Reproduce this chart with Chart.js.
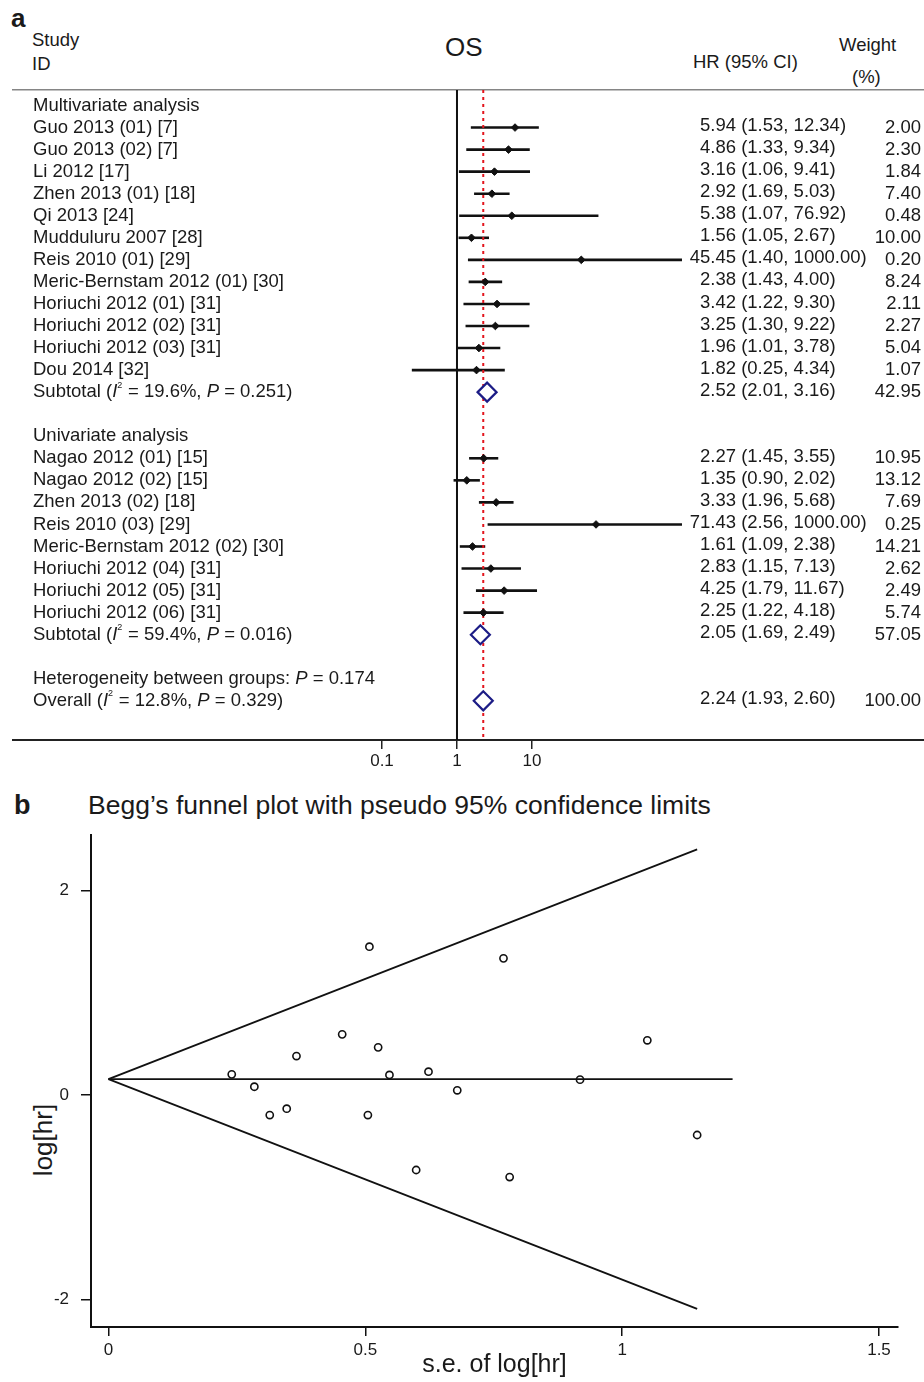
<!DOCTYPE html>
<html><head><meta charset="utf-8">
<script src="https://cdn.jsdelivr.net/npm/chart.js@4.4.1/dist/chart.umd.min.js"></script>
<style>
html,body{margin:0;padding:0;background:#fff;}
body{width:924px;height:1382px;position:relative;overflow:hidden;font-family:'Liberation Sans',Arial,sans-serif;color:#1a1a1a;}
.t{position:absolute;white-space:nowrap;line-height:1;}
#forest{position:absolute;left:0;top:0;}
#funnel{position:absolute;left:0;top:780px;}
#ytitle{left:43px;top:1140px;font-size:26px;transform:translate(-50%,-50%) rotate(-90deg);}
</style></head><body>
<div class="t" style="left:11px;top:5px;font-size:26px;font-weight:bold;">a</div>
<div class="t" style="left:32px;top:31px;font-size:18.5px;">Study</div>
<div class="t" style="left:32px;top:55px;font-size:18.5px;">ID</div>
<div class="t" style="left:445px;top:34px;font-size:26px;">OS</div>
<div class="t" style="left:693px;top:53px;font-size:18.5px;">HR (95% CI)</div>
<div class="t" style="left:839px;top:36px;font-size:18.5px;">Weight</div>
<div class="t" style="left:852px;top:68px;font-size:18.5px;">(%)</div>
<div class="t" style="left:14px;top:792px;font-size:27px;font-weight:bold;">b</div>
<div class="t" style="left:88px;top:792px;font-size:26.5px;">Begg’s funnel plot with pseudo 95% confidence limits</div>
<div class="t" id="ytitle">log[hr]</div>
<canvas id="forest" width="924" height="780" style="width:924px;height:780px"></canvas>
<canvas id="funnel" width="924" height="602" style="width:924px;height:602px"></canvas>
<script>
// ---------------- Forest plot data ----------------
const groupNames = ['Multivariate analysis', 'Univariate analysis'];

const multiNames = ['Guo 2013 (01) [7]', 'Guo 2013 (02) [7]', 'Li 2012 [17]', 'Zhen 2013 (01) [18]',
  'Qi 2013 [24]', 'Mudduluru 2007 [28]', 'Reis 2010 (01) [29]', 'Meric-Bernstam 2012 (01) [30]',
  'Horiuchi 2012 (01) [31]', 'Horiuchi 2012 (02) [31]', 'Horiuchi 2012 (03) [31]', 'Dou 2014 [32]'];
const multiHR = [5.94, 4.86, 3.16, 2.92, 5.38, 1.56, 45.45, 2.38, 3.42, 3.25, 1.96, 1.82];
const multiLo = [1.53, 1.33, 1.06, 1.69, 1.07, 1.05, 1.40, 1.43, 1.22, 1.30, 1.01, 0.25];
const multiHi = [12.34, 9.34, 9.41, 5.03, 76.92, 2.67, 1000.00, 4.00, 9.30, 9.22, 3.78, 4.34];
const multiWt = [2.00, 2.30, 1.84, 7.40, 0.48, 10.00, 0.20, 8.24, 2.11, 2.27, 5.04, 1.07];

const uniNames = ['Nagao 2012 (01) [15]', 'Nagao 2012 (02) [15]', 'Zhen 2013 (02) [18]', 'Reis 2010 (03) [29]',
  'Meric-Bernstam 2012 (02) [30]', 'Horiuchi 2012 (04) [31]', 'Horiuchi 2012 (05) [31]', 'Horiuchi 2012 (06) [31]'];
const uniHR = [2.27, 1.35, 3.33, 71.43, 1.61, 2.83, 4.25, 2.25];
const uniLo = [1.45, 0.90, 1.96, 2.56, 1.09, 1.15, 1.79, 1.22];
const uniHi = [3.55, 2.02, 5.68, 1000.00, 2.38, 7.13, 11.67, 4.18];
const uniWt = [10.95, 13.12, 7.69, 0.25, 14.21, 2.62, 2.49, 5.74];

const subtotalHR = [2.52, 2.05];
const subtotalLo = [2.01, 1.69];
const subtotalHi = [3.16, 2.49];
const subtotalWt = [42.95, 57.05];
const subtotalI2 = ['19.6%', '59.4%'];
const subtotalP = ['0.251', '0.016'];

const hetP = '0.174';
const overallHR = 2.24, overallLo = 1.93, overallHi = 2.60, overallWt = 100.00;
const overallI2 = '12.8%', overallP = '0.329';

const forestTicks = [0.1, 1, 10];

// ---------------- Funnel plot data ----------------
const funnelSE    = [0.240, 0.284, 0.314, 0.347, 0.366, 0.455, 0.508, 0.505, 0.525, 0.547, 0.599, 0.623, 0.679, 0.769, 0.781, 0.918, 1.049, 1.146];
const funnelLogHR = [0.202, 0.081, -0.196, -0.134, 0.381, 0.593, 1.450, -0.196, 0.466, 0.196, -0.733, 0.228, 0.046, 1.336, -0.802, 0.150, 0.535, -0.391];
const limitSE     = [0, 1.146];
const limitUpper  = [0.156, 2.402];
const limitLower  = [0.156, -2.090];
const centerSE    = [0, 1.215];
const centerLogHR = [0.156, 0.156];
const funnelXTicks = [0, 0.5, 1, 1.5];
const funnelYTicks = [-2, 0, 2];

// ---------------- Build rows ----------------
const FONT = "'Liberation Sans', Arial, sans-serif";
const TXT = '#1a1a1a';
const FS = 18.5;
function richStats(prefix, i2, p) {
  return [[prefix + ' (', 'n'], ['I', 'i'], ['2', 's'], [' = ' + i2 + ', ', 'n'], ['P', 'i'], [' = ' + p + ')', 'n']];
}
const rows = [];
function addGroup(g, names, hr, lo, hi, wt) {
  rows.push({label: groupNames[g]});
  names.forEach((n, i) => rows.push({label: n, hr: hr[i], lo: lo[i], hi: hi[i], wt: wt[i], kind: 'study'}));
  rows.push({label: '', hr: subtotalHR[g], lo: subtotalLo[g], hi: subtotalHi[g], wt: subtotalWt[g], kind: 'pool',
    rich: richStats('Subtotal', subtotalI2[g], subtotalP[g])});
  rows.push({label: ''});
}
addGroup(0, multiNames, multiHR, multiLo, multiHi, multiWt);
addGroup(1, uniNames, uniHR, uniLo, uniHi, uniWt);
rows.push({label: '', rich: [['Heterogeneity between groups: ', 'n'], ['P', 'i'], [' = ' + hetP, 'n']]});
rows.push({label: '', hr: overallHR, lo: overallLo, hi: overallHi, wt: overallWt, kind: 'pool',
  rich: richStats('Overall', overallI2, overallP)});

const Y_MIN = -0.703, Y_MAX = 28.776;

const datasets = [];
datasets.push({data: [{x: 1, y: Y_MIN}, {x: 1, y: Y_MAX}], showLine: true, pointRadius: 0,
  borderColor: '#111', borderWidth: 2, order: 6});
datasets.push({data: [{x: overallHR, y: Y_MIN}, {x: overallHR, y: Y_MAX}], showLine: true, pointRadius: 0,
  borderColor: '#e3141c', borderWidth: 2, borderDash: [3, 4], order: 3});
rows.forEach((r, i) => {
  if (r.kind === 'study') {
    datasets.push({data: [{x: r.lo, y: i}, {x: r.hi, y: i}], showLine: true, pointRadius: 0,
      borderColor: '#111', borderWidth: 2.6, order: 4});
  }
});
datasets.push({data: rows.map((r, i) => r.kind === 'study' ? {x: r.hr, y: i} : null).filter(Boolean),
  pointStyle: 'rectRot', pointRadius: 3.8, backgroundColor: '#111', borderColor: '#111', borderWidth: 1, order: 2});
datasets.push({data: rows.map((r, i) => r.kind === 'pool' ? {x: r.hr, y: i} : null).filter(Boolean),
  pointStyle: 'rectRot', pointRadius: 9.5, backgroundColor: '#fff', borderColor: '#1c1c86', borderWidth: 2.2, order: 1});

const forestText = {
  id: 'forestText',
  afterDraw(chart) {
    const ctx = chart.ctx, ys = chart.scales.y;
    ctx.save();
    ctx.fillStyle = TXT;
    ctx.textBaseline = 'middle';
    ctx.textAlign = 'left';
    ctx.font = FS + 'px ' + FONT;
    const w0 = ctx.measureText('0.00').width;
    rows.forEach((r, i) => {
      if (r.hr == null) return;
      const y = ys.getPixelForValue(i) - 1.5;
      const head = r.hr.toFixed(2);
      const s = head + ' (' + r.lo.toFixed(2) + ', ' + r.hi.toFixed(2) + ')';
      const x = 700 + w0 - ctx.measureText(head).width;
      ctx.fillText(s, x, y);
    });
    rows.forEach((r, i) => {
      if (!r.rich) return;
      let x = 33;
      const y = ys.getPixelForValue(i);
      r.rich.forEach(([t, st]) => {
        let yy = y;
        if (st === 'i') ctx.font = 'italic ' + FS + 'px ' + FONT;
        else if (st === 's') { ctx.font = '9px ' + FONT; yy = y - 7; }
        else ctx.font = FS + 'px ' + FONT;
        ctx.fillText(t, x, yy);
        x += ctx.measureText(t).width + (st === 's' ? 0.5 : 0);
      });
    });
    ctx.restore();
  }
};

new Chart(document.getElementById('forest'), {
  type: 'scatter',
  data: {datasets},
  options: {
    responsive: false, animation: false, events: [],
    layout: {autoPadding: false, padding: {top: 90, left: 13, right: 0, bottom: 0}},
    plugins: {legend: {display: false}, tooltip: {enabled: false}},
    scales: {
      x: {
        type: 'logarithmic', position: 'bottom',
        min: Math.pow(10, -5.92), max: Math.pow(10, 6.227),
        afterBuildTicks: s => { s.ticks = forestTicks.map(v => ({value: v})); },
        afterFit: s => { s.height = 40; },
        grid: {display: true, drawOnChartArea: false, drawTicks: true, tickLength: 9, color: '#222', lineWidth: 1.5},
        border: {display: true, color: '#222', width: 2},
        ticks: {autoSkip: false, maxRotation: 0, padding: 2, color: TXT, font: {size: 17, family: FONT},
          callback: v => String(v)}
      },
      x2: {
        type: 'linear', position: 'top', display: true,
        afterFit: s => { s.height = 0; },
        grid: {display: false}, ticks: {display: false},
        border: {display: true, color: '#858585', width: 1.6}
      },
      y: {
        type: 'linear', position: 'left', reverse: true, min: Y_MIN, max: Y_MAX,
        afterBuildTicks: s => { s.ticks = rows.map((r, i) => ({value: i})); },
        afterFit: s => { s.width = 0; },
        grid: {display: false, drawTicks: false}, border: {display: false},
        ticks: {mirror: true, padding: 20, autoSkip: false, color: TXT, font: {size: FS, family: FONT},
          callback: v => (rows[v] ? rows[v].label : '')}
      },
      y2: {
        type: 'linear', position: 'right', reverse: true, min: Y_MIN, max: Y_MAX,
        afterBuildTicks: s => { s.ticks = rows.map((r, i) => ({value: i})); },
        afterFit: s => { s.width = 0; },
        grid: {display: false, drawTicks: false}, border: {display: false},
        ticks: {mirror: true, padding: -3, autoSkip: false, color: TXT, font: {size: FS, family: FONT},
          callback: v => (rows[v] && rows[v].wt != null ? rows[v].wt.toFixed(2) : '')}
      }
    }
  },
  plugins: [forestText]
});

// ---------------- Funnel plot ----------------
new Chart(document.getElementById('funnel'), {
  type: 'scatter',
  data: {
    datasets: [
      {data: limitSE.map((x, i) => ({x, y: limitUpper[i]})), showLine: true, pointRadius: 0, borderColor: '#111', borderWidth: 1.8, order: 3},
      {data: limitSE.map((x, i) => ({x, y: limitLower[i]})), showLine: true, pointRadius: 0, borderColor: '#111', borderWidth: 1.8, order: 3},
      {data: centerSE.map((x, i) => ({x, y: centerLogHR[i]})), showLine: true, pointRadius: 0, borderColor: '#111', borderWidth: 1.8, order: 3},
      {data: funnelSE.map((x, i) => ({x, y: funnelLogHR[i]})), pointStyle: 'circle', pointRadius: 3.6,
        backgroundColor: 'rgba(0,0,0,0)', borderColor: '#111', borderWidth: 1.6, order: 1}
    ]
  },
  options: {
    responsive: false, animation: false, events: [],
    layout: {autoPadding: false, padding: {top: 55, left: 0, right: 26, bottom: 0}},
    plugins: {legend: {display: false}, tooltip: {enabled: false}},
    scales: {
      x: {
        type: 'linear', position: 'bottom', min: -0.034, max: 1.537,
        afterBuildTicks: s => { s.ticks = funnelXTicks.map(v => ({value: v})); },
        afterFit: s => { s.height = 55; },
        grid: {display: true, drawOnChartArea: false, drawTicks: true, tickLength: 9, color: '#111', lineWidth: 1.5},
        border: {display: true, color: '#111', width: 2},
        ticks: {autoSkip: false, maxRotation: 0, padding: 4, color: TXT, font: {size: 17, family: FONT},
          callback: v => String(v)},
        title: {display: true, text: 's.e. of log[hr]', color: TXT, font: {size: 25, family: FONT}, padding: {top: 0, bottom: 2}}
      },
      y: {
        type: 'linear', position: 'left', min: -2.268, max: 2.542,
        afterBuildTicks: s => { s.ticks = funnelYTicks.map(v => ({value: v})); },
        afterFit: s => { s.width = 91; },
        grid: {display: true, drawOnChartArea: false, drawTicks: true, tickLength: 10, color: '#111', lineWidth: 1.5},
        border: {display: true, color: '#111', width: 2},
        ticks: {autoSkip: false, padding: 12, color: TXT, font: {size: 17, family: FONT},
          callback: v => String(v)}
      }
    }
  }
});
</script>
</body></html>
